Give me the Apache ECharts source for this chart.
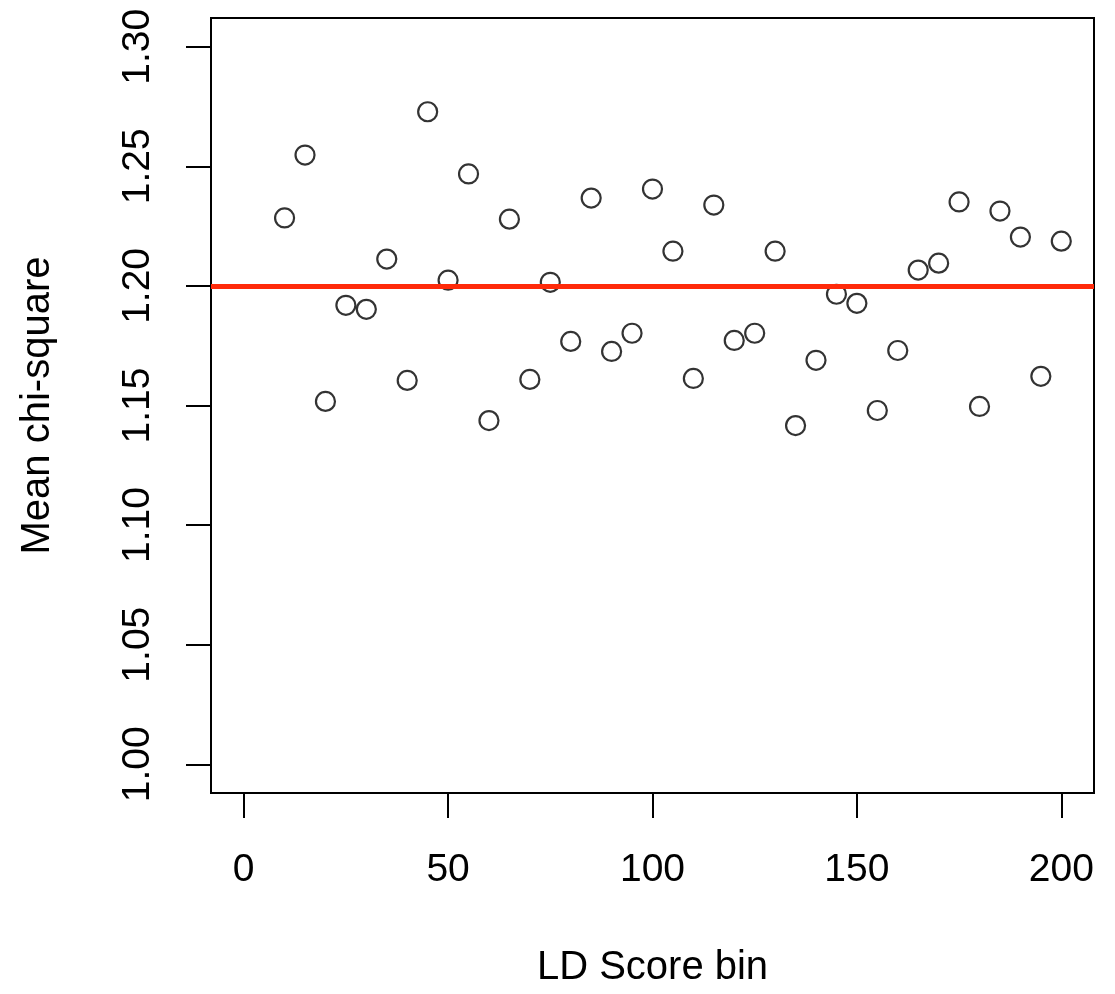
<!DOCTYPE html>
<html>
<head>
<meta charset="utf-8">
<title>Mean chi-square by LD Score bin</title>
<script src="https://cdn.jsdelivr.net/npm/echarts@6/dist/echarts.min.js"></script>
<style>
html,body{margin:0;padding:0;background:#fff}
#main{width:1115px;height:994px}
</style>
</head>
<body>
<div id="main"></div>
<script>
// bins on x, mean chi-square on y
var bins = [10,15,20,25,30,35,40,45,50,55,60,65,70,75,80,85,90,95,100,105,
	110,115,120,125,130,135,140,145,150,155,160,165,170,175,180,185,190,195,200]
var meanChisq = [1.2284,1.2547,1.1517,1.1919,1.1902,1.2112,1.1605,1.2728,1.2024,1.2468,
	1.1437,1.2279,1.1609,1.2015,1.1768,1.2367,1.1726,1.1802,1.2405,1.2145,
	1.1613,1.2338,1.1772,1.1802,1.2145,1.1416,1.1689,1.1965,1.1927,1.1479,
	1.1730,1.2066,1.2095,1.2351,1.1496,1.2313,1.2204,1.1622,1.2187]
var refLine = 1.20
var xTicks = [0,50,100,150,200]
var yTicks = [1.00,1.05,1.10,1.15,1.20,1.25,1.30]

var font = '"Liberation Sans", Arial, Helvetica, sans-serif'

function drawEcharts(ops,eleid){
	var myChart = echarts.init(document.getElementById(eleid));
	myChart.setOption(ops);
}

var points = []
for(var i=0;i<bins.length;i++){
	points.push([bins[i],meanChisq[i]])
}

var option = {
	backgroundColor: '#fff',
	animation: false,
	grid: {left: 211, right: 21, top: 18, bottom: 201, show: true, borderColor: '#000', borderWidth: 2, backgroundColor: 'transparent'},
	xAxis: {
		type: 'value',
		min: -8,
		max: 208,
		name: 'LD Score bin',
		nameLocation: 'middle',
		nameGap: 155,
		nameTextStyle: {fontSize: 40, color: '#000', fontFamily: font},
		axisLine: {show: false, onZero: false},
		splitLine: {show: false},
		axisTick: {show: true, inside: false, length: 25, customValues: xTicks, lineStyle: {color: '#000', width: 2}},
		axisLabel: {margin: 58, fontSize: 39, color: '#000', fontFamily: font, customValues: xTicks}
	},
	yAxis: {
		type: 'value',
		min: 0.988,
		max: 1.312,
		name: 'Mean chi-square',
		nameLocation: 'middle',
		nameGap: 153,
		nameTextStyle: {fontSize: 40, color: '#000', fontFamily: font},
		axisLine: {show: false, onZero: false},
		splitLine: {show: false},
		axisTick: {show: true, inside: false, length: 25, customValues: yTicks, lineStyle: {color: '#000', width: 2}},
		axisLabel: {margin: 53, rotate: 90, fontSize: 39, color: '#000', fontFamily: font, customValues: yTicks,
			formatter: function(v){ return v.toFixed(2) }}
	},
	series: [{
		type: 'scatter',
		data: points,
		symbol: 'circle',
		symbolSize: 19,
		itemStyle: {color: 'rgba(0,0,0,0)', borderColor: '#000', borderWidth: 2.2},
		markLine: {
			silent: true,
			symbol: ['none','none'],
			label: {show: false},
			lineStyle: {color: '#ff2a0a', width: 5, type: 'solid'},
			data: [{yAxis: refLine}]
		}
	}]
};
drawEcharts(option,'main')
</script>
</body>
</html>
